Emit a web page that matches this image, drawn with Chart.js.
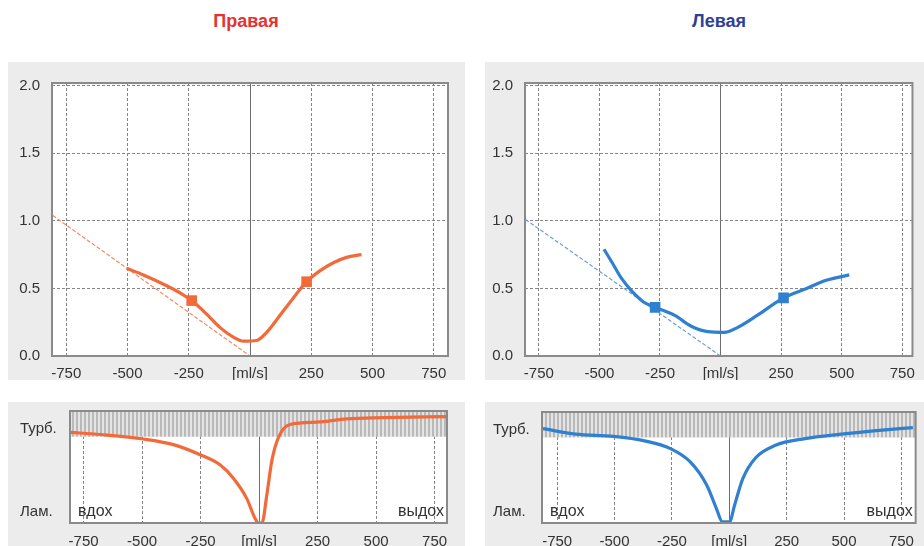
<!DOCTYPE html>
<html>
<head>
<meta charset="utf-8">
<script src="https://cdn.jsdelivr.net/npm/chart.js@4.4.1/dist/chart.umd.min.js"></script>
<style>
  body { margin: 0; width: 924px; height: 546px; background: #fff; position: relative; overflow: hidden; font-family: "Liberation Sans", Arial, sans-serif; }
  .panel { position: absolute; background: #ececec; }
  .title { position: absolute; top: 11px; font-weight: bold; font-size: 18px; transform: translateX(-50%); }
</style>
</head>
<body>
<div class="title" style="left:246px;color:#e8312f">Правая</div>
<div class="title" style="left:719px;color:#2e3f98">Левая</div>

<div class="panel" style="left:8px;top:62px;width:457px;height:318px"><canvas id="c1" width="457" height="318"></canvas></div>
<div class="panel" style="left:485px;top:62px;width:439px;height:318px"><canvas id="c2" width="439" height="318"></canvas></div>
<div class="panel" style="left:8px;top:402px;width:457px;height:144px"><canvas id="c3" width="457" height="144"></canvas></div>
<div class="panel" style="left:485px;top:402px;width:439px;height:144px"><canvas id="c4" width="439" height="144"></canvas></div>

<script>
// axis ticks
const xTicks = [-750, -500, -250, 0, 250, 500, 750];
const yTicks = [0, 0.5, 1.0, 1.5, 2.0];
const levelTicks = [0.1, 0.84];
const levelLabels = ['Лам.', 'Турб.'];
const turbBand = [0.77, 1];

// Правая - resistance vs flow
const pravX = [-503, -435, -340, -279, -238, -177, -122, -68, -27, 27, 68, 122, 177, 231, 285, 340, 394, 455];
const pravY = [0.65, 0.60, 0.52, 0.46, 0.41, 0.31, 0.21, 0.14, 0.11, 0.115, 0.175, 0.30, 0.43, 0.55, 0.63, 0.69, 0.73, 0.75];
const pravMarkX = [-238, 231];
const pravMarkY = [0.41, 0.55];
const pravTanX = [-805, 0];
const pravTanY = [1.04, 0];

// Левая - resistance vs flow
const levX = [-481, -447, -407, -366, -318, -270, -189, -121, -53, 15, 69, 151, 260, 355, 436, 531];
const levY = [0.79, 0.69, 0.57, 0.48, 0.40, 0.36, 0.30, 0.22, 0.18, 0.175, 0.21, 0.30, 0.43, 0.50, 0.56, 0.60];
const levMarkX = [-270, 260];
const levMarkY = [0.36, 0.43];
const levTanX = [-805, 0];
const levTanY = [1.01, 0];

// laminar / turbulent
const pravTurbX = [-808, -679, -494, -366, -252, -167, -110, -53, -17, -3, 12, 33, 54, 82, 132, 247, 375, 531, 802];
const pravTurbY = [0.81, 0.79, 0.75, 0.70, 0.61, 0.52, 0.40, 0.22, 0.04, 0.0, 0.0, 0.25, 0.55, 0.76, 0.88, 0.90, 0.93, 0.94, 0.95];
const levTurbX = [-812, -669, -505, -369, -256, -170, -98, -56, -30, 1, 23, 59, 116, 201, 330, 487, 629, 800];
const levTurbY = [0.85, 0.80, 0.78, 0.74, 0.67, 0.55, 0.34, 0.13, 0.01, 0.01, 0.16, 0.40, 0.59, 0.70, 0.76, 0.80, 0.83, 0.86];

const zip = (xs, ys) => xs.map((x, i) => ({ x: x, y: ys[i] }));

const ORANGE = '#f26a3a';
const BLUE = '#2f80d0';

const hatchCanvas = document.createElement('canvas');
hatchCanvas.width = 4; hatchCanvas.height = 1;
const hc = hatchCanvas.getContext('2d');
hc.fillStyle = '#e4e4e4'; hc.fillRect(0, 0, 4, 1);
hc.fillStyle = '#b9b9b9'; hc.fillRect(0, 0, 2, 1);
const hatch = hc.createPattern(hatchCanvas, 'repeat');

const framePlugin = {
  id: 'frame',
  beforeDraw(chart) {
    const a = chart.chartArea, ctx = chart.ctx;
    ctx.save();
    ctx.fillStyle = '#fff';
    ctx.fillRect(a.left, a.top, a.right - a.left, a.bottom - a.top);
    ctx.restore();
  },
  afterDraw(chart) {
    const a = chart.chartArea, ctx = chart.ctx;
    ctx.save();
    ctx.strokeStyle = '#8a8a8a';
    ctx.lineWidth = 2;
    ctx.strokeRect(a.left, a.top, a.right - a.left, a.bottom - a.top);
    ctx.restore();
  }
};

const breathPlugin = {
  id: 'breath',
  afterDraw(chart) {
    const a = chart.chartArea, ctx = chart.ctx;
    ctx.save();
    ctx.font = '16px "Liberation Sans"';
    ctx.fillStyle = '#333';
    ctx.textBaseline = 'middle';
    ctx.textAlign = 'left';
    ctx.fillText('вдох', a.left + 8, a.bottom - 11);
    ctx.textAlign = 'right';
    ctx.fillText('выдох', a.right - 3, a.bottom - 11);
    ctx.restore();
  }
};

function xScale(min, max, height, pad) {
  return {
    type: 'linear', min: min, max: max,
    afterBuildTicks: s => { s.ticks = xTicks.map(v => ({ value: v })); },
    afterFit: s => { s.height = height; },
    grid: { drawTicks: false, color: c => (c.tick && c.tick.value === 0) ? '#6e6e6e' : '#858585' },
    border: { display: false, dash: c => (c.tick && c.tick.value === 0) ? [] : [3, 2] },
    ticks: {
      padding: pad, color: '#333', font: { size: 15, family: 'Liberation Sans' },
      autoSkip: false, maxRotation: 0,
      callback: v => v === 0 ? '[ml/s]' : String(v)
    }
  };
}

function topChart(id, o) {
  new Chart(document.getElementById(id), {
    type: 'scatter',
    data: {
      datasets: [
        { data: zip(o.markX, o.markY), pointStyle: 'rect', pointRadius: 7.5, backgroundColor: o.color, borderWidth: 0, order: 0 },
        { data: zip(o.x, o.y), showLine: true, borderColor: o.color, borderWidth: 3.2, pointRadius: 0, cubicInterpolationMode: 'monotone', order: 1 },
        { data: zip(o.tanX, o.tanY), showLine: true, borderColor: o.tanColor, borderWidth: 1.2, borderDash: [4, 2], pointRadius: 0, order: 2 }
      ]
    },
    options: {
      responsive: false, animation: false,
      layout: { padding: o.padding },
      plugins: { legend: { display: false }, tooltip: { enabled: false } },
      scales: {
        x: xScale(o.xMin, o.xMax, 24, 9),
        y: {
          min: 0, max: 2.02,
          afterBuildTicks: s => { s.ticks = yTicks.map(v => ({ value: v })); },
          afterFit: s => { s.width = o.yWidth; },
          grid: { drawTicks: false, color: '#858585' },
          border: { display: false, dash: [3, 2] },
          ticks: { padding: 12, color: '#333', font: { size: 15, family: 'Liberation Sans' }, callback: v => v.toFixed(1) }
        }
      }
    },
    plugins: [framePlugin]
  });
}

function bottomChart(id, o) {
  new Chart(document.getElementById(id), {
    type: 'scatter',
    data: {
      datasets: [
        { data: zip(o.x, o.y), showLine: true, borderColor: o.color, borderWidth: 3.2, pointRadius: 0, cubicInterpolationMode: 'monotone', order: 1 },
        { data: [{ x: -900, y: turbBand[1] }, { x: 900, y: turbBand[1] }], showLine: true, fill: { value: turbBand[0] },
          backgroundColor: hatch, borderWidth: 0, pointRadius: 0, order: 3 }
      ]
    },
    options: {
      responsive: false, animation: false,
      layout: { padding: o.padding },
      plugins: { legend: { display: false }, tooltip: { enabled: false } },
      scales: {
        x: xScale(o.xMin, o.xMax, 23, 10),
        y: {
          min: 0, max: 1,
          afterBuildTicks: s => { s.ticks = levelTicks.map(v => ({ value: v })); },
          afterFit: s => { s.width = o.yWidth; },
          grid: { display: false },
          border: { display: false },
          ticks: { padding: 0, crossAlign: 'far', color: '#333', font: { size: 15, family: 'Liberation Sans' },
            callback: (v, i) => levelLabels[i] }
        }
      }
    },
    plugins: [framePlugin, breathPlugin]
  });
}

topChart('c1', { x: pravX, y: pravY, markX: pravMarkX, markY: pravMarkY, tanX: pravTanX, tanY: pravTanY,
  color: ORANGE, tanColor: '#f4895f', xMin: -808, xMax: 808, yWidth: 44, padding: { top: 14, right: 17, left: 0, bottom: 0 } });
topChart('c2', { x: levX, y: levY, markX: levMarkX, markY: levMarkY, tanX: levTanX, tanY: levTanY,
  color: BLUE, tanColor: '#6a9fdb', xMin: -807, xMax: 792, yWidth: 40, padding: { top: 15, right: 6, left: 0, bottom: 0 } });
bottomChart('c3', { x: pravTurbX, y: pravTurbY, color: ORANGE, xMin: -808, xMax: 803, yWidth: 50,
  padding: { top: 9, right: 18, left: 12, bottom: 0 } });
bottomChart('c4', { x: levTurbX, y: levTurbY, color: BLUE, xMin: -816, xMax: 812, yWidth: 49,
  padding: { top: 10, right: 2, left: 8, bottom: 0 } });
</script>
</body>
</html>
